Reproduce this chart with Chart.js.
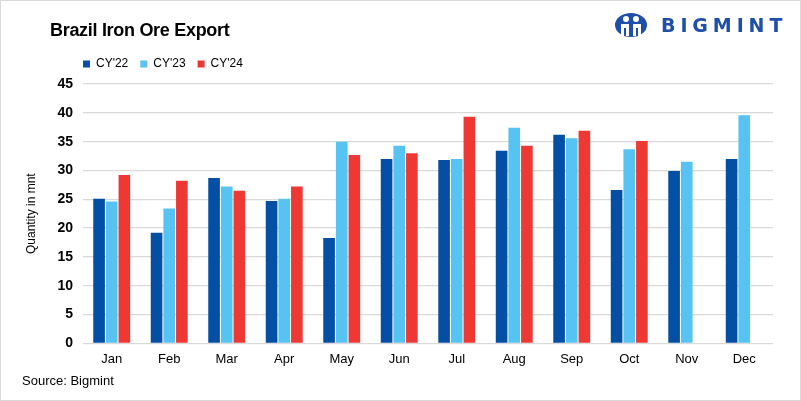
<!DOCTYPE html>
<html>
<head>
<meta charset="utf-8">
<script src="https://cdn.jsdelivr.net/npm/chart.js@4"></script>
<style>
	body { margin: 0; background: #fff; }
	.frame { position: relative; width: 801px; height: 401px; box-sizing: border-box; border: 1px solid #d9d9d9; font-family: "Liberation Sans", Arial, sans-serif; }
	.frame canvas { position: absolute; left: 0; top: 0; }
	.title { position: absolute; left: 49px; top: 19px; font-size: 18px; font-weight: bold; color: #000; letter-spacing: -0.3px; }
	.source { position: absolute; left: 21px; top: 372px; font-size: 13px; color: #000; }
	.logo { position: absolute; left: 614px; top: 12px; display: flex; align-items: center; }
	.logo span { margin-left: 14px; font-size: 19px; font-weight: bold; color: #1f4fa8; letter-spacing: 4.9px; font-family: "DejaVu Sans", sans-serif; }
</style>
</head>
<body>
<div class="frame">
	<canvas id="chart" width="799" height="399"></canvas>
	<div class="title">Brazil Iron Ore Export</div>
	<div class="logo">
		<svg width="32" height="24" viewBox="0 0 32 24">
			<ellipse cx="16" cy="12" rx="16" ry="12" fill="#1f4fa8"/>
			<circle cx="11" cy="6" r="3" fill="#fff"/>
			<circle cx="21" cy="6" r="3" fill="#fff"/>
			<path d="M6 11 h8 v12 h-3 v-8 h-2 v8 h-3z" fill="#fff"/>
			<path d="M18 11 h8 v12 h-3 v-8 h-2 v8 h-3z" fill="#fff"/>
		</svg>
		<span>BIGMINT</span>
	</div>
	<div class="source">Source: Bigmint</div>
</div>
<script>
const months = ["Jan", "Feb", "Mar", "Apr", "May", "Jun", "Jul", "Aug", "Sep", "Oct", "Nov", "Dec"];
const cy22 = [25.1, 19.2, 28.7, 24.7, 18.3, 32.0, 31.8, 33.4, 36.2, 26.6, 29.9, 32.0];
const cy23 = [24.6, 23.4, 27.2, 25.1, 35.0, 34.3, 32.0, 37.4, 35.6, 33.7, 31.5, 39.6];
const cy24 = [29.2, 28.2, 26.5, 27.2, 32.7, 33.0, 39.3, 34.3, 36.9, 35.1, null, null];
const yTicks = [0, 5, 10, 15, 20, 25, 30, 35, 40, 45];

const barStyle = {
	categoryPercentage: 0.66,
	barPercentage: 0.92,
};

const LEGEND_PAD = 12;

// legend starts at the plot's left edge, a bit above where Chart.js puts it
const legendShift = {
	id: "legendShift",
	afterLayout(chart) {
		const lg = chart.legend;
		const dx = chart.chartArea.left - LEGEND_PAD - lg.left;
		lg.left += dx;
		lg.right += dx;
		lg.top -= 4;
		lg.bottom -= 4;
	},
};

new Chart(document.getElementById("chart"), {
	type: "bar",
	data: {
		labels: months,
		datasets: [
			{ label: "CY'22", data: cy22, backgroundColor: "#034fa3", ...barStyle },
			{ label: "CY'23", data: cy23, backgroundColor: "#56c3f2", ...barStyle },
			{ label: "CY'24", data: cy24, backgroundColor: "#ee3834", ...barStyle },
		],
	},
	options: {
		responsive: false,
		animation: false,
		layout: {
			padding: { top: 49, left: 23, right: 27, bottom: 25 },
		},
		plugins: {
			legend: {
				position: "top",
				align: "start",
				fullSize: false,
				labels: {
					boxWidth: 7,
					boxHeight: 7,
					padding: LEGEND_PAD,
					color: "#000",
					font: { family: "Liberation Sans", size: 12 },
				},
			},
			tooltip: { enabled: false },
		},
		scales: {
			x: {
				grid: { display: false, tickLength: 0 },
				border: { display: false },
				ticks: {
					color: "#000",
					padding: 8,
					font: { family: "Liberation Sans", size: 13 },
				},
			},
			y: {
				min: 0,
				max: 45,
				afterBuildTicks: (axis) => {
					axis.ticks = yTicks.map((v) => ({ value: v }));
				},
				ticks: {
					color: "#000",
					padding: 10,
					font: { family: "Liberation Sans", size: 14, weight: "bold" },
				},
				grid: { color: "#d9d9d9", lineWidth: 1.3, drawTicks: false, tickLength: 0 },
				border: { display: false },
				title: {
					display: true,
					text: "Quantity in mnt",
					color: "#000",
					padding: { top: 0, bottom: 9 },
					font: { family: "Liberation Sans", size: 12 },
				},
			},
		},
	},
	plugins: [legendShift],
});
</script>
</body>
</html>
